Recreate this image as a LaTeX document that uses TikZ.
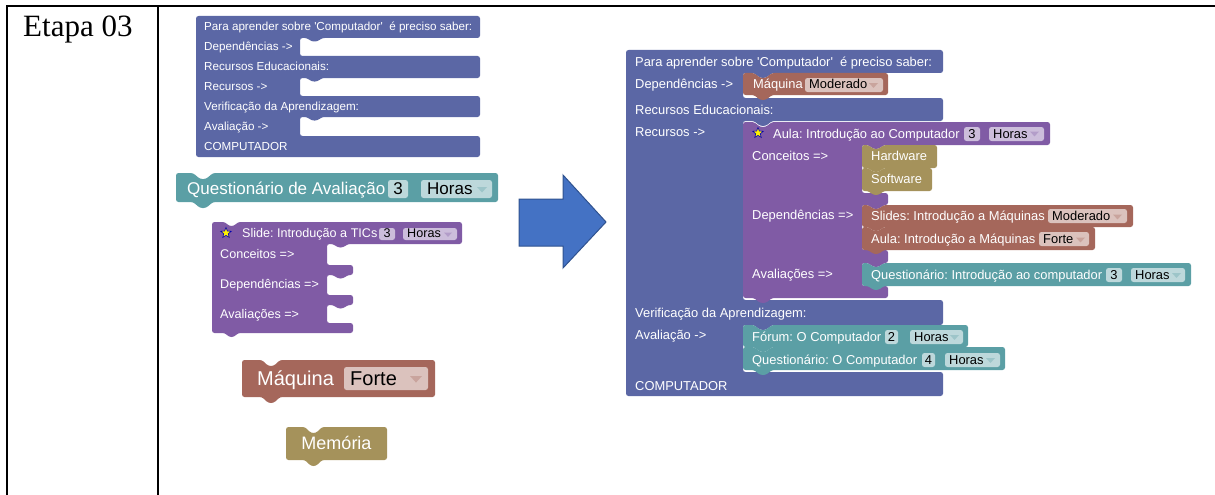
\documentclass[tikz,border=0pt]{standalone}
\usepackage{fontspec}
\usetikzlibrary{shapes.geometric}
\newfontfamily\bsans{Liberation Sans}
\newfontfamily\tserif{Liberation Serif}
\frenchspacing
\definecolor{cIndigo}{RGB}{91,103,165}
\definecolor{cPurple}{RGB}{128,91,165}
\definecolor{cTeal}{RGB}{91,159,165}
\definecolor{cBrown}{RGB}{165,103,91}
\definecolor{cOlive}{RGB}{165,146,91}
\definecolor{cArrow}{RGB}{68,114,196}
\definecolor{cArrowB}{RGB}{47,82,143}
\newcommand{\bkshape}[8]{\fill[#1, rounded corners=2.5pt] (#2,#5) -- (#2,#3) -- (#6,#3) -- ({#6+0.35*#7},{#3+#8}) -- ({#6+0.65*#7},{#3+#8}) -- ({#6+#7},#3) -- (#4,#3) -- (#4,#5) -- ({#6+#7},#5) -- ({#6+0.65*#7},{#5+#8}) -- ({#6+0.35*#7},{#5+#8}) -- (#6,#5) -- cycle;}
\newcommand{\fldbox}[5]{\fill[#1, rounded corners=2.5pt] (#2,#3) rectangle (#4,#5);}
\newcommand{\ddtri}[4]{\fill[#1] (#2,#3) -- ({#2+#4},#3) -- ({#2+#4/2},{#3+0.55*#4}) -- cycle;}
\tikzset{
  lbl/.style={anchor=base west, inner sep=0pt, text=white},
  ftxt/.style={anchor=base west, inner sep=0pt, text=black},
  fR/.style={font=\bsans\fontsize{12.9}{15}\selectfont},
  fL/.style={font=\bsans\fontsize{11.65}{14}\selectfont},
  fS/.style={font=\bsans\fontsize{12.6}{15}\selectfont},
  fQ/.style={font=\bsans\fontsize{17}{20}\selectfont},
  fM/.style={font=\bsans\fontsize{20}{24}\selectfont},
  fMe/.style={font=\bsans\fontsize{18}{22}\selectfont},
  staricon/.style={star, star points=5, star point ratio=2.3, fill=yellow, draw=blue!70!black, line width=0.6pt, minimum size=11pt, inner sep=0pt},
}
\begin{document}
\begin{tikzpicture}[x=1pt,y=-1pt]
\useasboundingbox (0,0) rectangle (1215,495);
% table
\draw[line width=2pt] (7,495) -- (7,6) -- (1215,6);
\draw[line width=2pt] (158,6) -- (158,495);
\node[anchor=base west, inner sep=0pt, font=\tserif\fontsize{31}{36}\selectfont] (etapa) at (23,37) {Etapa 03};

% ===== left top indigo block
\fill[cIndigo, rounded corners=2.5pt] (196,157) -- (196,16) -- (480,16) -- (480,38) -- (322,38) -- (317.5,41.5) -- (311.5,41.5) -- (307,38) -- (300,38) -- (300,56) -- (480,56) -- (480,78) -- (322,78) -- (317.5,81.5) -- (311.5,81.5) -- (307,78) -- (300,78) -- (300,96) -- (480,96) -- (480,117) -- (322,117) -- (317.5,120.5) -- (311.5,120.5) -- (307,117) -- (300,117) -- (300,136) -- (480,136) -- (480,157) -- cycle;
\node[lbl,fL] (l1) at (204,30.5) {Para aprender sobre 'Computador'\ \ é preciso saber:};
\node[lbl,fL] (l2) at (204,50.5) {Dependências ->};
\node[lbl,fL] (l3) at (204,70.5) {Recursos Educacionais:};
\node[lbl,fL] (l4) at (204,90.5) {Recursos ->};
\node[lbl,fL] (l5) at (204,110) {Verificação da Aprendizagem:};
\node[lbl,fL] (l6) at (204,130) {Avaliação ->};
\node[lbl,fL] (l7) at (204,150) {COMPUTADOR};

% ===== left Questionario
\bkshape{cTeal}{176}{173}{498}{202}{193}{20}{6}
\node[lbl,fQ] (qa) at (187,194) {Questionário de Avaliação};
\fldbox{cTeal!40!white}{388}{180}{408}{198}
\node[ftxt,fQ,anchor=base] (qa3) at (398,194) {3};
\fldbox{cTeal!40!white}{421}{180}{492}{198}
\node[ftxt,fQ] (qah) at (427,194) {Horas};
\ddtri{cTeal!60!white}{477}{187}{10}

% ===== left Slide block
\fill[cPurple, rounded corners=2.5pt] (212,333) -- (212,222) -- (225,222) -- (229,226) -- (234,226) -- (238,222) -- (462,222) -- (462,244) -- (348,244) -- (343,247.5) -- (338,247.5) -- (333,244) -- (327,244) -- (327,265) -- (353,265) -- (353,275) -- (348,275) -- (343,278.5) -- (338,278.5) -- (333,275) -- (327,275) -- (327,295) -- (353,295) -- (353,305) -- (348,305) -- (343,308.5) -- (338,308.5) -- (333,305) -- (327,305) -- (327,323) -- (353,323) -- (353,333) -- (238,333) -- (234,337) -- (229,337) -- (225,333) -- cycle;
\node[staricon] (sstar) at (226,233) {};
\node[lbl,fS] (st) at (242,237.5) {Slide: Introdução a TICs};
\fldbox{cPurple!40!white}{379}{228}{395}{240}
\node[ftxt,fS,anchor=base] (st3) at (387,237.5) {3};
\fldbox{cPurple!40!white}{403}{228}{457}{240}
\node[ftxt,fS] (sth) at (407,237.5) {Horas};
\ddtri{cPurple!60!white}{444}{232.5}{8}
\node[lbl,fS] (sc) at (220,258.5) {Conceitos =>};
\node[lbl,fS] (sd) at (220,288.5) {Dependências =>};
\node[lbl,fS] (sa) at (220,318.5) {Avaliações =>};

% ===== Maquina Forte
\bkshape{cBrown}{242}{360}{435}{397}{262}{18}{6}
\node[lbl,fM] (mq) at (257,385.7) {Máquina};
\fldbox{cBrown!40!white}{344}{367}{428}{390}
\node[ftxt,fM] (mqf) at (350,385.7) {Forte};
\ddtri{cBrown!60!white}{410}{376}{12}

% ===== Memoria
\bkshape{cOlive}{286}{427}{387}{460}{305}{17}{6}
\node[lbl,fMe,anchor=base] (mem) at (336.5,449.4) {Memória};

% ===== big arrow
\filldraw[fill=cArrow, draw=cArrowB, line width=1pt] (519,199) -- (563,199) -- (563,175) -- (606,222) -- (563,268) -- (563,246) -- (519,246) -- cycle;

% ===== right indigo block
\fill[cIndigo, rounded corners=2.5pt] (626,396) -- (626,50) -- (943,50) -- (943,73) -- (772,73) -- (765.7,78) -- (760.3,78) -- (754,73) -- (743,73) -- (743,98) -- (943,98) -- (943,121) -- (772,121) -- (765.7,126) -- (760.3,126) -- (754,121) -- (743,121) -- (743,300) -- (943,300) -- (943,325) -- (772,325) -- (765.7,330) -- (760.3,330) -- (754,325) -- (743,325) -- (743,372) -- (943,372) -- (943,396) -- cycle;
\node[lbl,fR] (r1) at (635,66.6) {Para aprender sobre 'Computador'\ \ é preciso saber:};
\node[lbl,fR] (r2) at (635,88.6) {Dependências ->};
\node[lbl,fR] (r3) at (635,114.6) {Recursos Educacionais:};
\node[lbl,fR] (r4) at (635,136.6) {Recursos ->};
\node[lbl,fR] (r5) at (635,317.6) {Verificação da Aprendizagem:};
\node[lbl,fR] (r6) at (635,339.6) {Avaliação ->};
\node[lbl,fR] (r7) at (635,390.6) {COMPUTADOR};

% Maquina Moderado
\bkshape{cBrown}{743}{73}{888}{95}{754}{18}{5}
\node[lbl,fR] (mm) at (753,88.6) {Máquina};
\fldbox{cBrown!40!white}{805}{78}{883}{92}
\node[ftxt,fR] (mmf) at (809,88.6) {Moderado};
\ddtri{cBrown!60!white}{869}{83}{9}

% Aula block (purple)
\fill[cPurple, rounded corners=2.5pt] (743,298) -- (743,122) -- (754,122) -- (760.3,127) -- (765.7,127) -- (772,122) -- (1050,122) -- (1050,145) -- (884,145) -- (878.4,149) -- (873.6,149) -- (868,145) -- (862,145) -- (862,193) -- (888,193) -- (888,205) -- (884,205) -- (878.4,209) -- (873.6,209) -- (868,205) -- (862,205) -- (862,250) -- (888,250) -- (888,263) -- (884,263) -- (878.4,267) -- (873.6,267) -- (868,263) -- (862,263) -- (862,286) -- (888,286) -- (888,298) -- (772,298) -- (765.7,303) -- (760.3,303) -- (754,298) -- cycle;
\node[staricon] (astar) at (758,133) {};
\node[lbl,fR] (at) at (773,138) {Aula: Introdução ao Computador};
\fldbox{cPurple!40!white}{964}{127}{980}{141}
\node[ftxt,fR,anchor=base] (at3) at (972,138) {3};
\fldbox{cPurple!40!white}{989}{127}{1044}{141}
\node[ftxt,fR] (ath) at (993,138) {Horas};
\ddtri{cPurple!60!white}{1030}{131.5}{9}
\node[lbl,fR] (ac) at (752,160.6) {Conceitos =>};
\node[lbl,fR] (ad) at (752,219.6) {Dependências =>};
\node[lbl,fR] (aa) at (752,278.6) {Avaliações =>};

% Hardware / Software
\bkshape{cOlive}{862}{145}{937}{168}{868}{16}{4}
\node[lbl,fR] (hw) at (871,160.6) {Hardware};
\bkshape{cOlive}{862}{168}{932}{191}{868}{16}{4}
\node[lbl,fR] (sw) at (871,183.6) {Software};

% Slides / Aula Maquinas
\bkshape{cBrown}{862}{205}{1133}{227}{868}{16}{4}
\node[lbl,fR] (sl) at (871,220.6) {Slides: Introdução a Máquinas};
\fldbox{cBrown!40!white}{1048}{209}{1127}{223}
\node[ftxt,fR] (slf) at (1052,220.6) {Moderado};
\ddtri{cBrown!60!white}{1113}{214.5}{9}
\bkshape{cBrown}{862}{227}{1095}{250}{868}{16}{4}
\node[lbl,fR] (am) at (871,243.6) {Aula: Introdução a Máquinas};
\fldbox{cBrown!40!white}{1039}{232}{1089}{246}
\node[ftxt,fR] (amf) at (1043,243.6) {Forte};
\ddtri{cBrown!60!white}{1076}{237.5}{9}

% Questionario Introducao
\bkshape{cTeal}{862}{263}{1191}{286}{868}{16}{4}
\node[lbl,fR] (qi) at (871,279.6) {Questionário: Introdução ao computador};
\fldbox{cTeal!40!white}{1106}{268}{1122}{282}
\node[ftxt,fR,anchor=base] (qi3) at (1114,279.6) {3};
\fldbox{cTeal!40!white}{1131}{268}{1185}{282}
\node[ftxt,fR] (qih) at (1135,279.6) {Horas};
\ddtri{cTeal!60!white}{1172}{273}{9}

% Forum / Questionario O Computador
\bkshape{cTeal}{743}{325}{968}{347}{754}{18}{5}
\node[lbl,fR] (fo) at (752,341.6) {Fórum: O Computador};
\fldbox{cTeal!40!white}{885}{330}{898}{344}
\node[ftxt,fR,anchor=base] (fo2) at (891.5,341.6) {2};
\fldbox{cTeal!40!white}{910}{330}{963}{344}
\node[ftxt,fR] (foh) at (914,341.6) {Horas};
\ddtri{cTeal!60!white}{950}{335}{9}
\bkshape{cTeal}{743}{347}{1005}{370}{754}{18}{5}
\node[lbl,fR] (qc) at (752,364.6) {Questionário: O Computador};
\fldbox{cTeal!40!white}{922}{353}{935}{367}
\node[ftxt,fR,anchor=base] (qc4) at (928.5,364.6) {4};
\fldbox{cTeal!40!white}{945}{353}{1000}{367}
\node[ftxt,fR] (qch) at (949,364.6) {Horas};
\ddtri{cTeal!60!white}{986}{358}{9}
\end{tikzpicture}
\end{document}
